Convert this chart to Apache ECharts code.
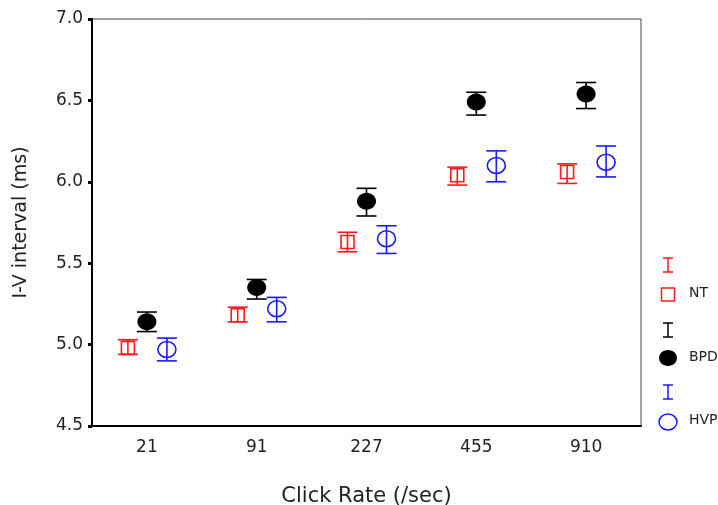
<!DOCTYPE html>
<html>
<head>
<meta charset="utf-8">
<script src="https://cdn.jsdelivr.net/npm/echarts@6/dist/echarts.min.js"></script>
<style>html,body{margin:0;padding:0;background:#fff;}#c{width:718px;height:505px;}</style>
</head>
<body>
<div id="c"></div>
<script>
const categories = ['21', '91', '227', '455', '910'];
const ntMean = [4.98, 5.18, 5.63, 6.04, 6.06];
const ntLow  = [4.94, 5.14, 5.57, 5.98, 5.99];
const ntHigh = [5.03, 5.23, 5.69, 6.09, 6.11];
const bpdMean = [5.14, 5.35, 5.88, 6.49, 6.54];
const bpdLow  = [5.08, 5.28, 5.79, 6.41, 6.45];
const bpdHigh = [5.20, 5.40, 5.96, 6.55, 6.61];
const hvpMean = [4.97, 5.22, 5.65, 6.10, 6.12];
const hvpLow  = [4.90, 5.14, 5.56, 6.00, 6.03];
const hvpHigh = [5.04, 5.29, 5.73, 6.19, 6.22];
const yTicks = [4.5, 5.0, 5.5, 6.0, 6.5, 7.0];

const chart = echarts.init(document.getElementById('c'));

function mk(mean, low, high) {
  return categories.map((c, i) => [i, mean[i], low[i], high[i]]);
}

function makeRender(color, offset, marker) {
  return function (params, api) {
    const idx = api.value(0);
    const c = api.coord([idx, api.value(1)]);
    const lo = api.coord([idx, api.value(2)]);
    const hi = api.coord([idx, api.value(3)]);
    const x = c[0] + offset;
    const cap = 10;
    const ls = { stroke: color, lineWidth: 1.6 };
    const children = [
      { type: 'line', shape: { x1: x, y1: hi[1], x2: x, y2: lo[1] }, style: ls },
      { type: 'line', shape: { x1: x - cap, y1: hi[1], x2: x + cap, y2: hi[1] }, style: ls },
      { type: 'line', shape: { x1: x - cap, y1: lo[1], x2: x + cap, y2: lo[1] }, style: ls }
    ];
    if (marker === 'square') {
      children.push({ type: 'rect', shape: { x: x - 6.5, y: c[1] - 6.5, width: 13, height: 13 }, style: { fill: null, stroke: color, lineWidth: 1.6 } });
    } else if (marker === 'filled') {
      children.push({ type: 'ellipse', shape: { cx: x, cy: c[1], rx: 9.5, ry: 8.5 }, style: { fill: color } });
    } else {
      children.push({ type: 'ellipse', shape: { cx: x, cy: c[1], rx: 9, ry: 8 }, style: { fill: null, stroke: color, lineWidth: 1.6 } });
    }
    return { type: 'group', children: children };
  };
}

const legendX = 668;
function iSym(y, color) {
  return [
    { type: 'line', shape: { x1: legendX, y1: y - 7, x2: legendX, y2: y + 7 }, style: { stroke: color, lineWidth: 1.5 } },
    { type: 'line', shape: { x1: legendX - 5, y1: y - 7, x2: legendX + 5, y2: y - 7 }, style: { stroke: color, lineWidth: 1.5 } },
    { type: 'line', shape: { x1: legendX - 5, y1: y + 7, x2: legendX + 5, y2: y + 7 }, style: { stroke: color, lineWidth: 1.5 } }
  ];
}
const lgText = (y, t) => ({ type: 'text', left: 689, top: y - 8, style: { text: t, font: '14px "DejaVu Sans", sans-serif', fill: '#222' } });

chart.setOption({
  animation: false,
  grid: { left: 92, top: 19, right: 77, bottom: 79, containLabel: false, outerBoundsMode: 'none', show: true, borderColor: '#444', borderWidth: 1, backgroundColor: '#fff' },
  xAxis: {
    type: 'category',
    data: categories,
    name: 'Click Rate (/sec)',
    nameLocation: 'middle',
    nameGap: 60,
    nameTextStyle: { fontSize: 21, color: '#222', fontFamily: 'DejaVu Sans' },
    axisLine: { lineStyle: { color: '#000', width: 2 } },
    axisTick: { alignWithLabel: true, length: 4, lineStyle: { color: '#000', width: 3 } },
    axisLabel: { fontSize: 17, color: '#222', fontFamily: 'DejaVu Sans', margin: 13 },
    splitLine: { show: false }
  },
  yAxis: {
    type: 'value',
    min: 4.5, max: 7.0, interval: 0.5,
    name: 'I-V interval (ms)',
    nameLocation: 'middle',
    nameGap: 61,
    nameTextStyle: { fontSize: 19, color: '#222', fontFamily: 'DejaVu Sans' },
    axisLine: { show: true, lineStyle: { color: '#000', width: 2 } },
    axisTick: { show: true, length: 4, lineStyle: { color: '#000', width: 3 } },
    axisLabel: { fontSize: 17, color: '#222', fontFamily: 'DejaVu Sans', margin: 9, formatter: v => v.toFixed(1) },
    splitLine: { show: false }
  },
  series: [
    { type: 'custom', name: 'NT', data: mk(ntMean, ntLow, ntHigh), renderItem: makeRender('#ff1a1a', -19, 'square'), encode: { x: 0, y: [1, 2, 3] } },
    { type: 'custom', name: 'BPD', data: mk(bpdMean, bpdLow, bpdHigh), renderItem: makeRender('#000', 0, 'filled'), encode: { x: 0, y: [1, 2, 3] } },
    { type: 'custom', name: 'HVP', data: mk(hvpMean, hvpLow, hvpHigh), renderItem: makeRender('#1a1aff', 20, 'open'), encode: { x: 0, y: [1, 2, 3] } }
  ],
  graphic: [].concat(
    iSym(265, '#ff1a1a'),
    [{ type: 'rect', shape: { x: legendX - 6.5, y: 288, width: 13, height: 13 }, style: { fill: null, stroke: '#ff1a1a', lineWidth: 1.5 } }, lgText(294, 'NT')],
    iSym(330, '#000'),
    [{ type: 'ellipse', shape: { cx: legendX, cy: 358, rx: 9, ry: 8 }, style: { fill: '#000' } }, lgText(358, 'BPD')],
    iSym(392, '#1a1aff'),
    [{ type: 'ellipse', shape: { cx: legendX, cy: 422, rx: 9, ry: 8 }, style: { fill: null, stroke: '#1a1aff', lineWidth: 1.5 } }, lgText(421, 'HVP')]
  )
});
</script>
</body>
</html>
